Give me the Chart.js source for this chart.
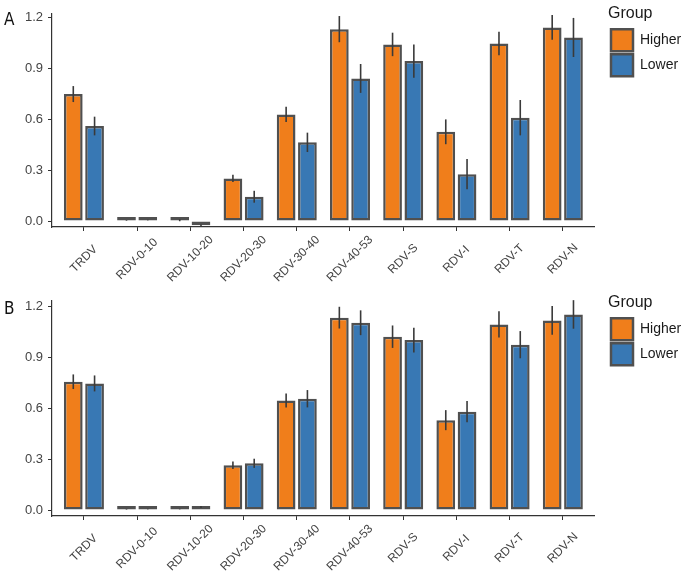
<!DOCTYPE html>
<html>
<head>
<meta charset="utf-8">
<script src="https://cdn.jsdelivr.net/npm/chart.js@4.4.1/dist/chart.umd.min.js"></script>
<style>
  body{margin:0;background:#fff;width:689px;height:576px;overflow:hidden;font-family:'Liberation Sans',Arial,sans-serif}
  .panel{position:absolute;left:0;width:689px;height:288px}
  .tag{position:absolute;left:4px;font:17px/20px 'DejaVu Sans Condensed','DejaVu Sans',sans-serif;color:#111}
</style>
</head>
<body>
<div class="panel" style="top:0"><canvas id="chartA" width="689" height="288"></canvas><div class="tag" style="top:9px">A</div></div>
<div class="panel" style="top:289px"><canvas id="chartB" width="689" height="288"></canvas><div class="tag" style="top:9px">B</div></div>
<script>
(function(){
  const categories = ['TRDV','RDV-0-10','RDV-10-20','RDV-20-30','RDV-30-40','RDV-40-53','RDV-S','RDV-I','RDV-T','RDV-N'];
  const seriesNames = ['Higher','Lower'];
  const yTicks = [0, 0.3, 0.6, 0.9, 1.2];
  const yMin = -0.035;

  // panel A
  const higherA    = [0.747, 0.004, 0.005, 0.251, 0.627, 1.129, 1.039, 0.525, 1.045, 1.139];
  const higherAErr = [0.047, 0.002, 0.006, 0.022, 0.045, 0.077, 0.069, 0.073, 0.069, 0.073];
  const lowerA     = [0.559, 0.006, -0.025, 0.143, 0.463, 0.839, 0.941, 0.276, 0.608, 1.080];
  const lowerAErr  = [0.055, 0.002, 0.004, 0.035, 0.057, 0.085, 0.098, 0.089, 0.104, 0.115];
  const yMaxA = 1.218;

  // panel B
  const higherB    = [0.755, 0.005, 0.006, 0.263, 0.645, 1.132, 1.020, 0.529, 1.092, 1.116];
  const higherBErr = [0.043, 0.002, 0.002, 0.022, 0.041, 0.064, 0.066, 0.059, 0.077, 0.084];
  const lowerB     = [0.745, 0.006, 0.018, 0.275, 0.655, 1.102, 1.000, 0.579, 0.973, 1.151];
  const lowerBErr  = [0.047, 0.002, 0.006, 0.027, 0.051, 0.073, 0.073, 0.062, 0.080, 0.084];
  const yMaxB = 1.23;

  const ORANGE = '#F07E1B', BLUE = '#3878B4', EDGE = '#505050', AXIS = '#333333', TXT = '#444444';
  const PX_PER_UNIT = 170, AXIS_Y = 227;

  // error bars drawn with the y scale
  const errorBars = {
    id:'errorBars',
    afterDatasetsDraw(chart){
      const ctx = chart.ctx, ys = chart.scales.y;
      ctx.save();
      ctx.strokeStyle = '#3a3a3a'; ctx.lineWidth = 1.6;
      chart.data.datasets.forEach((ds, d) => {
        const meta = chart.getDatasetMeta(d);
        meta.data.forEach((bar, i) => {
          const v = ds.data[i], e = ds.errors[i];
          ctx.beginPath();
          ctx.moveTo(bar.x, ys.getPixelForValue(v + e));
          ctx.lineTo(bar.x, ys.getPixelForValue(v - e));
          ctx.stroke();
        });
      });
      ctx.restore();
    }
  };

  // rotated category labels, centred under each tick like the ggplot original
  const xLabels = {
    id:'xLabels',
    afterDraw(chart){
      const xs = chart.scales.x, ctx = chart.ctx;
      ctx.save();
      ctx.font = '12px "Liberation Sans", Arial, sans-serif';
      ctx.fillStyle = TXT; ctx.textAlign = 'center'; ctx.textBaseline = 'middle';
      categories.forEach((c, i) => {
        ctx.save();
        ctx.translate(xs.getPixelForValue(i), xs.top + 32);
        ctx.rotate(-Math.PI/4);
        ctx.fillText(c, 0, 0);
        ctx.restore();
      });
      ctx.restore();
    }
  };

  // legend sits in the top right corner, a bit away from the panel
  const legendShift = {
    id:'legendShift',
    afterLayout(chart){
      const l = chart.legend; if (!l) return;
      const dx = 608 - l.left, dy = 0 - l.top;
      l.left += dx; l.right += dx; l.top += dy; l.bottom += dy;
    }
  };

  function makeChart(id, higher, higherErr, lower, lowerErr, yMax){
    const padTop = Math.round(AXIS_Y - (yMax - yMin) * PX_PER_UNIT);
    return new Chart(document.getElementById(id), {
      type:'bar',
      data:{
        labels: categories,
        datasets:[
          { label: seriesNames[0], data: higher, errors: higherErr, backgroundColor: ORANGE },
          { label: seriesNames[1], data: lower, errors: lowerErr, backgroundColor: BLUE }
        ]
      },
      options:{
        responsive:false, animation:false,
        layout:{ padding:{ left:0, top:padTop, bottom:0, right:11 } },
        datasets:{ bar:{ borderColor: EDGE, borderWidth: 2.5, borderSkipped: false, categoryPercentage: 0.8, barPercentage: 0.88, minBarLength: 4 } },
        plugins:{
          tooltip:{ enabled:false },
          legend:{
            position:'right', align:'start',
            title:{ display:true, text:'Group', position:'start', color:'#1a1a1a', padding:{ top:6, bottom:1 }, font:{ family:'"Liberation Sans", Arial, sans-serif', size:16 } },
            labels:{ boxWidth:22, boxHeight:22, padding:3, color:'#1a1a1a', font:{ family:'"Liberation Sans", Arial, sans-serif', size:14 } }
          }
        },
        scales:{
          x:{
            grid:{ display:true, drawOnChartArea:false, drawTicks:true, tickLength:4, color:AXIS, offset:false },
            border:{ display:true, color:AXIS, width:1.2 },
            ticks:{ display:false },
            afterBuildTicks: s => { s._startValue = -0.6; s._valueRange = categories.length - 1 + 1.2; },
            afterFit: s => { s.height = 288 - AXIS_Y; }
          },
          y:{
            min:yMin, max:yMax,
            grid:{ display:true, drawOnChartArea:false, drawTicks:true, tickLength:4, color:AXIS },
            border:{ display:true, color:AXIS, width:1.2 },
            ticks:{ color:TXT, padding:5, font:{ family:'"Liberation Sans", Arial, sans-serif', size:13 }, callback: v => v.toFixed(1) },
            afterBuildTicks: s => { s.ticks = yTicks.map(v => ({ value: v })); },
            afterFit: s => { s.width = 52; s.paddingTop = 0; s.paddingBottom = 0; }
          }
        }
      },
      plugins:[errorBars, xLabels, legendShift]
    });
  }

  makeChart('chartA', higherA, higherAErr, lowerA, lowerAErr, yMaxA);
  makeChart('chartB', higherB, higherBErr, lowerB, lowerBErr, yMaxB);
})();
</script>
</body>
</html>
